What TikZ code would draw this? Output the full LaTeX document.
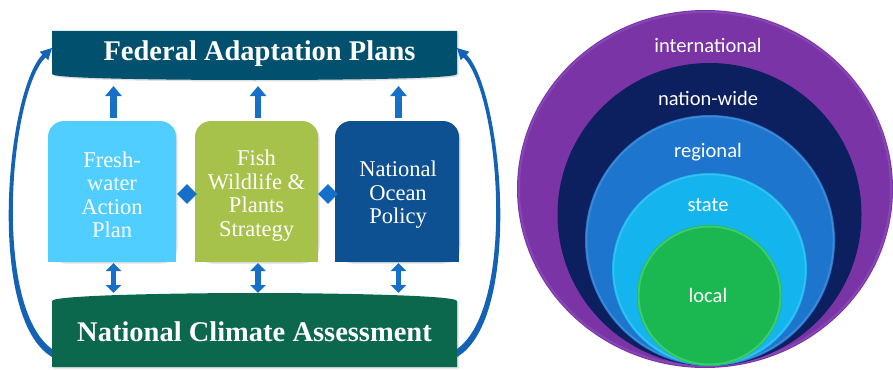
\documentclass[tikz,border=0pt]{standalone}
\usepackage{fontspec}
\setmainfont{Liberation Serif}
\newfontfamily\carlito{Carlito}
\usetikzlibrary{calc,arrows.meta,shapes.geometric,shadows}
\definecolor{fapcol}{HTML}{01506E}
\definecolor{ncacol}{HTML}{0B684D}
\definecolor{bonecol}{HTML}{50CEFF}
\definecolor{btwocol}{HTML}{A7C24A}
\definecolor{bthreecol}{HTML}{0E5193}
\definecolor{arrowblue}{HTML}{1770C8}
\definecolor{curveblue}{HTML}{1462B5}
\definecolor{cintl}{HTML}{7A34A6}
\definecolor{cintlrim}{HTML}{8646B6}
\definecolor{cnation}{HTML}{0C1F5E}
\definecolor{cregion}{HTML}{1E75CE}
\definecolor{cstate}{HTML}{14B5EF}
\definecolor{clocal}{HTML}{1BB852}
\definecolor{clocalrim}{HTML}{3CCB6E}
\tikzset{
  shapebox/.style={minimum width=#1, inner sep=0pt, outer sep=0pt},
  boxshadow/.style={drop shadow={opacity=0.25, shadow xshift=1.5pt, shadow yshift=-1.5pt}},
  titletext/.style={text=white, font=\bfseries\fontsize{28.5}{32}\selectfont, inner sep=0pt},
  boxtext/.style={text=white, font=\fontsize{22.5}{23.5}\selectfont, align=center, inner sep=0pt},
  ringtext/.style={text=white, font=\carlito\fontsize{20.5}{24}\selectfont, inner sep=0pt},
  uparrow/.style={draw=arrowblue, line width=6.5pt, -{Triangle[width=16pt,length=10pt]}, shorten <=3pt, shorten >=6pt},
  dblarrow/.style={draw=arrowblue, line width=5.5pt, {Triangle[width=15pt,length=8pt]}-{Triangle[width=15pt,length=8pt]}, shorten <=1pt},
  joint/.style={diamond, fill=arrowblue, minimum width=20pt, minimum height=20pt, inner sep=0pt}
}
\begin{document}
\begin{tikzpicture}[x=1pt,y=-1pt]
\useasboundingbox (0,0) rectangle (893,369);

% ---------- nodes (shapes filled below) ----------
\node[shapebox=405pt, minimum height=49pt] (fap) at (254.5,55.5) {};
\node[shapebox=405pt, minimum height=74pt] (nca) at (254.5,330) {};
\node[shapebox=128pt, minimum height=141pt] (b1) at (112,191.5) {};
\node[shapebox=123pt, minimum height=141pt] (b2) at (256.5,191.5) {};
\node[shapebox=124pt, minimum height=141pt] (b3) at (397,191.5) {};

% Federal Adaptation Plans box
\fill[fapcol, boxshadow] (fap.north west) -- (fap.north east) -- ($(fap.south east)+(0,-6)$)
  .. controls +(0,5) and +(70,0) .. (fap.south)
  .. controls +(-70,0) and +(0,5) .. ($(fap.south west)+(0,-6)$) -- cycle;
% National Climate Assessment box
\fill[ncacol, boxshadow] (nca.south west) -- ($(nca.north west)+(0,8)$)
  .. controls +(0,-6) and +(-70,0) .. (nca.north)
  .. controls +(70,0) and +(0,-6) .. ($(nca.north east)+(0,8)$) -- (nca.south east) -- cycle;

% middle boxes with rounded top corners
\foreach \b/\c in {b1/bonecol, b2/btwocol, b3/bthreecol}{
  \fill[\c, rounded corners=16pt, boxshadow] (\b.south west) -- (\b.north west) -- (\b.north east) -- (\b.south east) -- cycle;
  \fill[\c] (\b.south west) rectangle (\b.east);
}

% texts
\node[titletext] (fapt) at ($(fap.center)+(5,-1.5)$) {Federal Adaptation Plans};
\node[titletext] (ncat) at ($(nca.center)+(0,2)$) {National Climate Assessment};
\node[boxtext] (b1t) at ($(b1.center)+(0,3.5)$) {Fresh-\\water\\Action\\Plan};
\node[boxtext] (b2t) at ($(b2.center)+(0,4)$) {Fish\\Wildlife \&\\Plants\\Strategy};
\node[boxtext] (b3t) at ($(b3.center)+(1,3.5)$) {National\\Ocean\\Policy};

% diamonds
\node[joint] (d1) at ($(b1.east)!0.5!(b2.west)+(1.5,2.5)$) {};
\node[joint] (d2) at ($(b2.east)!0.5!(b3.west)+(1.5,2.5)$) {};

% up arrows and double arrows
\foreach \b in {b1,b2,b3}{
  \draw[uparrow] ([xshift=1.5pt]\b.north) -- ([xshift=1.5pt]\b.north |- fap.south);
  \draw[dblarrow] ([xshift=1.5pt]\b.south) -- ([xshift=1.5pt]\b.south |- nca.north);
}

% curved tapered arrows
\coordinate (lb) at ($(nca.west)+(0,23)$);
\coordinate (lt) at ($(fap.west)+(-8,0.5)$);
\coordinate (rb) at ($(nca.east)+(0,23)$);
\coordinate (rt) at ($(fap.east)+(8,0.5)$);
\fill[curveblue] ($(lb)+(0,4)$) .. controls +(-66,-39) and +(-36.5,37.5) .. ($(lt)+(-1.5,-1.5)$)
  -- ($(lt)+(-4.3,-4.2)$) -- ($(lt)+(8,-8)$) -- ($(lt)+(4.3,4.2)$) -- ($(lt)+(1.5,1.5)$)
  .. controls +(-35.5,34.5) and +(-60,-43) .. ($(lb)+(0,-4)$) -- cycle;
\fill[curveblue] ($(rb)+(0,4)$) .. controls +(66,-39) and +(36.5,37.5) .. ($(rt)+(1.5,-1.5)$)
  -- ($(rt)+(4.3,-4.2)$) -- ($(rt)+(-8,-8)$) -- ($(rt)+(-4.3,4.2)$) -- ($(rt)+(-1.5,1.5)$)
  .. controls +(35.5,34.5) and +(60,-43) .. ($(rb)+(0,-4)$) -- cycle;

% ---------- nested circles ----------
\fill[cintl] (705,189) ellipse [x radius=188, y radius=179];
\draw[cintlrim, line width=2pt] (705,189) ellipse [x radius=186, y radius=177];
\fill[cnation] (709.5,214.5) ellipse [x radius=152, y radius=151.5];
\fill[cregion] (710,240.5) ellipse [x radius=125, y radius=125.5];
\draw[cregion!85!white, line width=1.5pt] (710,240.5) ellipse [x radius=123.5, y radius=124];
\fill[cstate] (709.5,269.5) ellipse [x radius=97.5, y radius=96.5];
\draw[cstate!85!white, line width=1.5pt] (709.5,269.5) ellipse [x radius=96, y radius=95];
\fill[clocal] (709.5,295.5) ellipse [x radius=72.5, y radius=70.5];
\draw[clocalrim, line width=2pt] (709.5,295.5) ellipse [x radius=71, y radius=69];

\node[ringtext] (intl) at (708,45) {international};
\node[ringtext] (natw) at (708,98) {nation-wide};
\node[ringtext] (regl) at (708,152) {regional};
\node[ringtext] (stat) at (708,205) {state};
\node[ringtext] (locl) at (708,295) {local};
\end{tikzpicture}
\end{document}
